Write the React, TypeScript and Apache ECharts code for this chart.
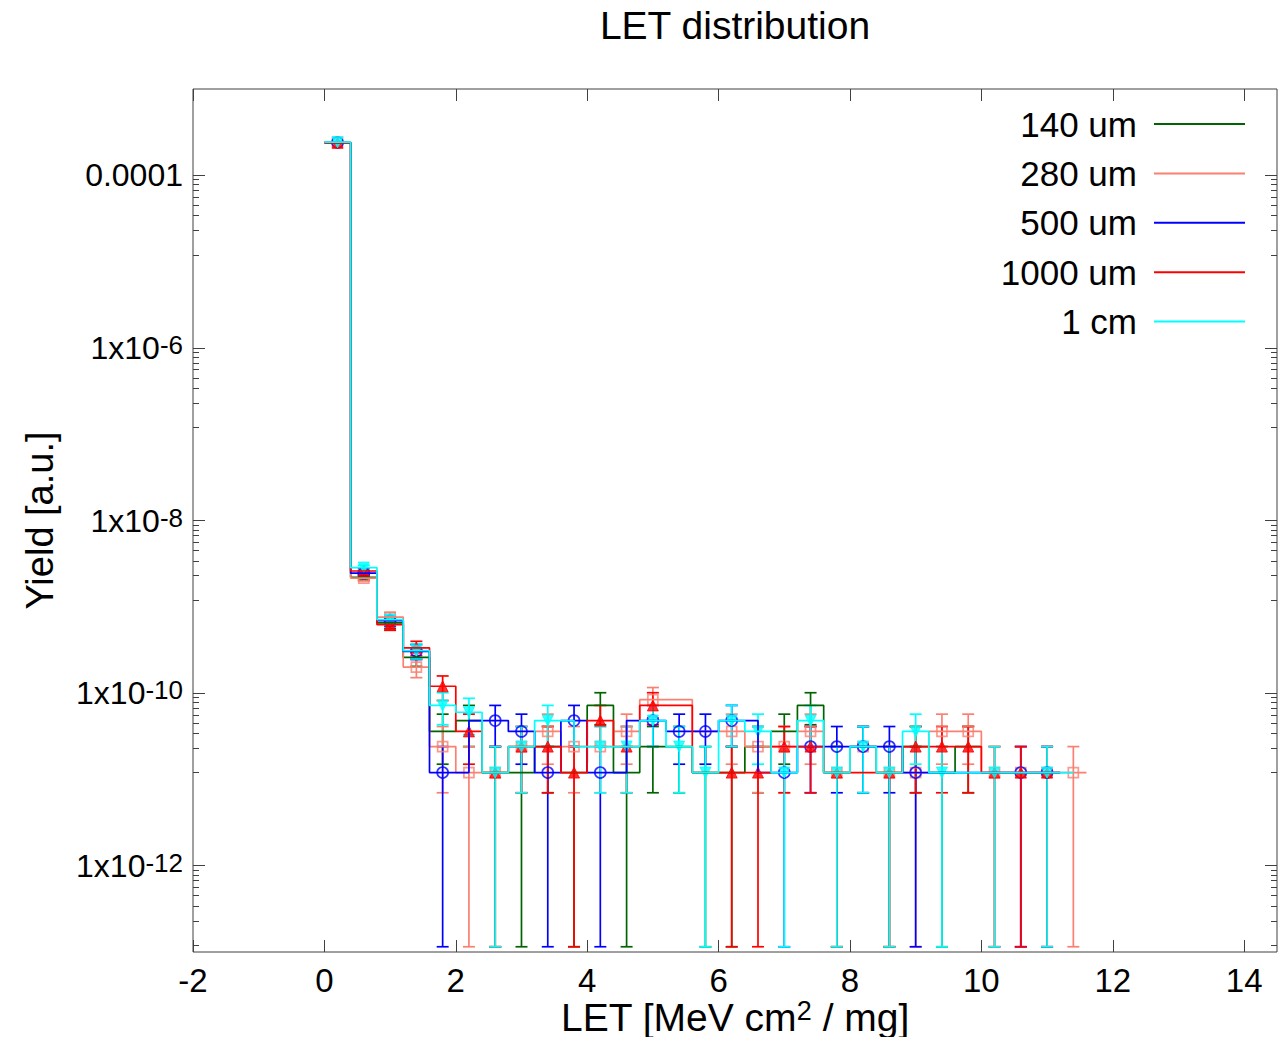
import React, { useEffect, useRef } from "react";
import * as echarts from "echarts";

// ---- data ----
const LET = [0.2, 0.6, 1.0, 1.4, 1.8, 2.2, 2.6, 3.0, 3.4, 3.8, 4.2, 4.6, 5.0, 5.4, 5.8, 6.2, 6.6, 7.0, 7.4, 7.8, 8.2, 8.6, 9.0, 9.4, 9.8, 10.2, 10.6, 11.0, 11.4];

const NAMES = ["140 um", "280 um", "500 um", "1000 um", "1 cm"];

const yield140 = [2.39e-4, 2.2e-9, 6.5e-10, 2.6e-10, 3.6e-11, 4.8e-11, 1.2e-11, 1.2e-11, 2.4e-11, 1.2e-11, 7.2e-11, 1.2e-11, 2.4e-11, 2.4e-11, 1.2e-11, 1.2e-11, 2.4e-11, 3.6e-11, 7.2e-11, 1.2e-11, 2.4e-11, 1.2e-11, 2.4e-11, 1.2e-11, 2.4e-11, null, null, null, null];
const err140 = [5e-8, 1.6e-10, 8.8e-11, 5.6e-11, 2.1e-11, 2.4e-11, 1.2e-11, 1.2e-11, 1.7e-11, 1.2e-11, 2.9e-11, 1.2e-11, 1.7e-11, 1.7e-11, 1.2e-11, 1.2e-11, 1.7e-11, 2.1e-11, 2.9e-11, 1.2e-11, 1.7e-11, 1.2e-11, 1.7e-11, 1.2e-11, 1.7e-11, null, null, null, null];

const yield280 = [2.41e-4, 2.15e-9, 7.6e-10, 2.0e-10, 2.4e-11, 1.2e-11, 1.2e-11, 2.4e-11, 3.6e-11, 2.4e-11, 2.4e-11, 3.6e-11, 8.4e-11, null, null, 3.6e-11, 2.4e-11, 2.4e-11, 3.6e-11, 1.2e-11, 2.4e-11, 1.2e-11, 1.2e-11, 3.6e-11, 3.6e-11, 1.2e-11, 1.2e-11, 1.2e-11, 1.2e-11];
const err280 = [5e-8, 1.6e-10, 9.5e-11, 4.9e-11, 1.7e-11, 1.2e-11, 1.2e-11, 1.7e-11, 2.1e-11, 1.7e-11, 1.7e-11, 2.1e-11, 3.2e-11, null, null, 2.1e-11, 1.7e-11, 1.7e-11, 2.1e-11, 1.2e-11, 1.7e-11, 1.2e-11, 1.2e-11, 2.1e-11, 2.1e-11, 1.2e-11, 1.2e-11, 1.2e-11, 1.2e-11];

const yield500 = [2.4e-4, 2.45e-9, 6.9e-10, 3.05e-10, 1.2e-11, null, 4.8e-11, 3.6e-11, 1.2e-11, 4.8e-11, 1.2e-11, null, 4.8e-11, 3.6e-11, 3.6e-11, 4.8e-11, null, 1.2e-11, 2.4e-11, 2.4e-11, 2.4e-11, 2.4e-11, 1.2e-11, null, null, null, 1.2e-11, 1.2e-11, null];
const err500 = [5e-8, 1.7e-10, 9.1e-11, 6.0e-11, 1.2e-11, null, 2.4e-11, 2.1e-11, 1.2e-11, 2.4e-11, 1.2e-11, null, 2.4e-11, 2.1e-11, 2.1e-11, 2.4e-11, null, 1.2e-11, 1.7e-11, 1.7e-11, 1.7e-11, 1.7e-11, 1.2e-11, null, null, null, 1.2e-11, 1.2e-11, null];

const yield1000 = [2.38e-4, 2.6e-9, 6.2e-10, 3.35e-10, 1.2e-10, 3.6e-11, 1.2e-11, 2.4e-11, 2.4e-11, 1.2e-11, 4.8e-11, 2.4e-11, 7.2e-11, null, null, 1.2e-11, 1.2e-11, 2.4e-11, 2.4e-11, 1.2e-11, null, 1.2e-11, 2.4e-11, 2.4e-11, 2.4e-11, 1.2e-11, 1.2e-11, 1.2e-11, null];
const err1000 = [5e-8, 1.8e-10, 8.6e-11, 6.3e-11, 3.8e-11, 2.1e-11, 1.2e-11, 1.7e-11, 1.7e-11, 1.2e-11, 2.4e-11, 1.7e-11, 2.9e-11, null, null, 1.2e-11, 1.2e-11, 1.7e-11, 1.7e-11, 1.2e-11, null, 1.2e-11, 1.7e-11, 1.7e-11, 1.7e-11, 1.2e-11, 1.2e-11, 1.2e-11, null];

const yield1cm = [2.42e-4, 2.85e-9, 7.1e-10, 3.1e-10, 7.2e-11, 6.0e-11, 1.2e-11, 2.4e-11, 4.8e-11, null, 2.4e-11, 2.4e-11, 4.8e-11, 2.4e-11, 1.2e-11, 4.8e-11, 3.6e-11, 1.2e-11, 4.8e-11, 1.2e-11, 2.4e-11, 1.2e-11, 3.6e-11, 1.2e-11, null, 1.2e-11, null, 1.2e-11, null];
const err1cm = [5e-8, 1.8e-10, 9.2e-11, 6.1e-11, 2.9e-11, 2.7e-11, 1.2e-11, 1.7e-11, 2.4e-11, null, 1.7e-11, 1.7e-11, 2.4e-11, 1.7e-11, 1.2e-11, 2.4e-11, 2.1e-11, 1.2e-11, 2.4e-11, 1.2e-11, 1.7e-11, 1.2e-11, 2.1e-11, 1.2e-11, null, 1.2e-11, null, 1.2e-11, null];

const X_TICKS = [-2, 0, 2, 4, 6, 8, 10, 12, 14];
const Y_LABEL_EXPS = [-12, -10, -8, -6, -4];

// ---- styling ----
const FONT = "'Liberation Sans', Arial, Helvetica, sans-serif";
const COLORS = ["#006400", "#fa8072", "#0000ff", "#ff0000", "#00ffff"];
const AXIS_COLOR = "#404040";
const LOG_FLOOR = 1.15e-13;
const LINE_W = 1.7;

type Marker = { symbol: string; size: number; filled: boolean; rotate?: number } | null;
const MARKERS: Marker[] = [
  null,
  { symbol: "rect", size: 10, filled: false },
  { symbol: "circle", size: 11, filled: false },
  { symbol: "triangle", size: 11, filled: true },
  { symbol: "triangle", size: 11, filled: true, rotate: 180 },
];

const YIELDS = [yield140, yield280, yield500, yield1000, yield1cm];
const ERRORS = [err140, err280, err500, err1000, err1cm];

function validPoints(ys: (number | null)[], es: (number | null)[]) {
  const pts: [number, number, number][] = [];
  ys.forEach((y, i) => {
    if (y != null && y > 0) pts.push([LET[i], y, es[i] ?? 0]);
  });
  return pts;
}

// gnuplot "histeps": steps at mid-points between consecutive defined points
function histeps(pts: [number, number, number][]) {
  const out: [number, number][] = [];
  const n = pts.length;
  out.push([pts[0][0] - (pts[1][0] - pts[0][0]) / 2, pts[0][1]]);
  for (let i = 0; i < n - 1; i++) {
    const m = (pts[i][0] + pts[i + 1][0]) / 2;
    out.push([m, pts[i][1]]);
    out.push([m, pts[i + 1][1]]);
  }
  out.push([pts[n - 1][0] + (pts[n - 1][0] - pts[n - 2][0]) / 2, pts[n - 1][1]]);
  return out;
}

function minorExps() {
  const res: number[] = [];
  for (let e = -14; e <= -4; e += 2) {
    for (let k = 1; k <= 8; k++) {
      const v = e + Math.log10(1 + 11 * k);
      if (v > -13 && v < -3) res.push(v);
    }
  }
  return res;
}

function buildOption() {
  const series: any[] = [];
  NAMES.forEach((name, si) => {
    const color = COLORS[si];
    const pts = validPoints(YIELDS[si], ERRORS[si]);
    series.push({
      name,
      type: "line",
      data: histeps(pts),
      symbol: "none",
      showSymbol: false,
      lineStyle: { color, width: LINE_W },
      itemStyle: { color },
      xAxisIndex: 0,
      yAxisIndex: 0,
      silent: true,
    });
    series.push({
      name: name + " err",
      type: "custom",
      xAxisIndex: 0,
      yAxisIndex: 0,
      data: pts,
      encode: { x: 0, y: 1 },
      silent: true,
      renderItem: (params: any, api: any) => {
        const x = api.value(0);
        const y = api.value(1);
        const e = api.value(2);
        const lo = y - e > LOG_FLOOR ? y - e : LOG_FLOOR;
        const hi = y + e;
        const pt = api.coord([x, hi]);
        const pb = api.coord([x, lo]);
        const hw = 6;
        const st = { stroke: color, lineWidth: LINE_W };
        return {
          type: "group",
          children: [
            { type: "line", shape: { x1: pt[0], y1: pt[1], x2: pb[0], y2: pb[1] }, style: st },
            { type: "line", shape: { x1: pt[0] - hw, y1: pt[1], x2: pt[0] + hw, y2: pt[1] }, style: st },
            { type: "line", shape: { x1: pb[0] - hw, y1: pb[1], x2: pb[0] + hw, y2: pb[1] }, style: st },
          ],
        };
      },
    });
    const mk = MARKERS[si];
    if (mk) {
      series.push({
        name: name + " pts",
        type: "scatter",
        xAxisIndex: 0,
        yAxisIndex: 0,
        data: pts.map((p) => [p[0], p[1]]),
        symbol: mk.symbol,
        symbolSize: mk.size,
        symbolRotate: mk.rotate ?? 0,
        silent: true,
        itemStyle: mk.filled
          ? { color, borderColor: color, borderWidth: 1 }
          : { color: "rgba(255,255,255,0)", borderColor: color, borderWidth: LINE_W },
      });
    }
  });

  const minor = minorExps();
  const tickStyle = { color: AXIS_COLOR, width: 1 };
  const yDeco = (position: "left" | "right", values: number[], len: number, labels: boolean) => ({
    type: "value",
    min: -13,
    max: -3,
    position,
    axisLine: { show: false, onZero: false },
    splitLine: { show: false },
    axisTick: { show: true, inside: true, length: len, customValues: values, lineStyle: tickStyle },
    axisLabel: labels
      ? {
          show: true,
          customValues: values,
          fontSize: 32,
          fontFamily: FONT,
          color: "#000",
          margin: 10,
          formatter: (v: number) => (Math.round(v) === -4 ? "0.0001" : `1x10{sup|${Math.round(v)}}`),
          rich: {
            sup: { fontSize: 26, fontFamily: FONT, color: "#000", verticalAlign: "top", lineHeight: 24 },
          },
        }
      : { show: false },
  });

  return {
    animation: false,
    backgroundColor: "#ffffff",
    title: {
      text: "LET distribution",
      left: 735,
      top: 6,
      textAlign: "center",
      padding: 0,
      textStyle: { fontSize: 39, fontWeight: "normal", color: "#000", fontFamily: FONT },
    },
    legend: {
      data: NAMES,
      orient: "vertical",
      align: "right",
      right: 41,
      top: 104,
      padding: 0,
      icon: "rect",
      itemWidth: 91,
      itemHeight: 2,
      itemGap: 9.4,
      selectedMode: false,
      textStyle: { fontSize: 35, fontFamily: FONT, color: "#000", lineHeight: 40, padding: [0, 12, 0, 0] },
    },
    grid: {
      left: 193,
      right: 9,
      top: 89,
      bottom: 85,
      show: true,
      borderColor: AXIS_COLOR,
      borderWidth: 1,
      backgroundColor: "rgba(0,0,0,0)",
      containLabel: false,
      outerBoundsMode: "none",
    },
    xAxis: [
      {
        type: "value",
        min: -2,
        max: 14.5,
        position: "bottom",
        axisLine: { show: false, onZero: false },
        splitLine: { show: false },
        axisTick: { show: true, inside: true, length: 12, customValues: X_TICKS, lineStyle: tickStyle },
        axisLabel: { customValues: X_TICKS, fontSize: 33, fontFamily: FONT, color: "#000", margin: 12 },
        name: "LET [MeV cm{sup|2} / mg]",
        nameLocation: "middle",
        nameGap: 45,
        nameMoveOverlap: false,
        nameTextStyle: {
          fontSize: 39,
          lineHeight: 40,
          fontFamily: FONT,
          color: "#000",
          rich: { sup: { fontSize: 27, fontFamily: FONT, color: "#000", verticalAlign: "top", lineHeight: 26 } },
        },
      },
      {
        type: "value",
        min: -2,
        max: 14.5,
        position: "top",
        axisLine: { show: false, onZero: false },
        splitLine: { show: false },
        axisTick: { show: true, inside: true, length: 12, customValues: X_TICKS, lineStyle: tickStyle },
        axisLabel: { show: false },
      },
    ],
    yAxis: [
      {
        type: "log",
        logBase: 10,
        min: 1e-13,
        max: 1e-3,
        position: "left",
        axisLine: { show: false, onZero: false },
        axisTick: { show: false },
        axisLabel: { show: false },
        splitLine: { show: false },
        name: "Yield [a.u.]",
        nameLocation: "middle",
        nameRotate: 90,
        nameGap: 134,
        nameMoveOverlap: false,
        nameTextStyle: { fontSize: 38, fontFamily: FONT, color: "#000" },
      },
      yDeco("left", Y_LABEL_EXPS, 12, true),
      yDeco("left", minor, 6, false),
      yDeco("right", Y_LABEL_EXPS, 12, false),
      yDeco("right", minor, 6, false),
    ],
    series,
  };
}

export default function App() {
  const ref = useRef<HTMLDivElement>(null);
  useEffect(() => {
    document.body.style.margin = "0";
    if (!ref.current) return;
    const chart = echarts.init(ref.current, undefined, { renderer: "svg" });
    chart.setOption(buildOption() as any);
    return () => chart.dispose();
  }, []);
  return <div ref={ref} style={{ width: 1286, height: 1037 }} />;
}
